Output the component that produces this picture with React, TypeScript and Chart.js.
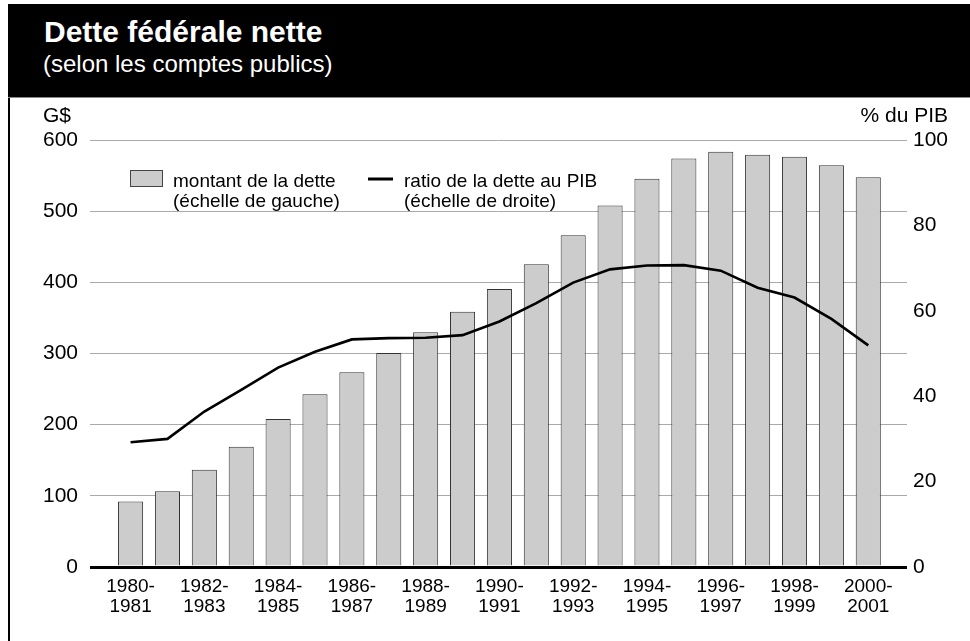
import React, { useEffect, useRef } from "react";
import { Chart, registerables } from "chart.js";

Chart.register(...registerables);

const categories: string[] = [
  "1980-1981", "1981-1982", "1982-1983", "1983-1984", "1984-1985", "1985-1986",
  "1986-1987", "1987-1988", "1988-1989", "1989-1990", "1990-1991", "1991-1992",
  "1992-1993", "1993-1994", "1994-1995", "1995-1996", "1996-1997", "1997-1998",
  "1998-1999", "1999-2000", "2000-2001",
];

// Net federal debt, billions of dollars (left scale)
const debtAmount: number[] = [
  91.9, 106.6, 136.6, 169.0, 207.9, 242.6, 273.5, 300.7, 330.0, 358.7, 390.6,
  425.3, 466.0, 508.0, 545.6, 574.0, 583.6, 579.4, 576.6, 564.4, 547.6,
];

// Debt-to-GDP ratio, % (right scale)
const debtRatio: number[] = [
  29.2, 30.0, 36.4, 41.5, 46.7, 50.4, 53.3, 53.6, 53.7, 54.3, 57.5,
  61.8, 66.6, 69.7, 70.6, 70.7, 69.4, 65.4, 63.1, 58.1, 51.9,
];

const leftTicks: number[] = [0, 100, 200, 300, 400, 500, 600];
const rightTicks: number[] = [0, 20, 40, 60, 80, 100];

const titleText = "Dette fédérale nette";
const subtitleText = "(selon les comptes publics)";
const leftAxisTitle = "G$";
const rightAxisTitle = "% du PIB";
const legendBar: string[] = ["montant de la dette", "(échelle de gauche)"];
const legendLine: string[] = ["ratio de la dette au PIB", "(échelle de droite)"];

const FONT = '"Liberation Sans", Arial, Helvetica, sans-serif';
const BAR_FILL = "#cccccc";
const BAR_BORDER = "#333333";

export default function App() {
  const canvasRef = useRef<HTMLCanvasElement | null>(null);

  useEffect(() => {
    const canvas = canvasRef.current;
    if (!canvas) return;

    const overlay = {
      id: "overlay",
      afterDraw(chart: any) {
        const { ctx, chartArea } = chart;
        const { left, top } = chartArea;
        ctx.save();
        ctx.fillStyle = "#000";
        ctx.textBaseline = "alphabetic";
        ctx.font = `21px ${FONT}`;
        ctx.textAlign = "left";
        ctx.fillText(leftAxisTitle, 33, 23);
        ctx.textAlign = "right";
        ctx.fillText(rightAxisTitle, chart.width - 22, 23);

        // legend: bars
        ctx.fillStyle = BAR_FILL;
        ctx.fillRect(left + 40, top + 30, 33, 17);
        ctx.strokeStyle = "#444";
        ctx.lineWidth = 1;
        ctx.strokeRect(left + 40.5, top + 30.5, 32, 16);
        ctx.fillStyle = "#000";
        ctx.font = `19px ${FONT}`;
        ctx.textAlign = "left";
        legendBar.forEach((t, i) => ctx.fillText(t, left + 83, top + 47 + i * 20));

        // legend: line
        ctx.strokeStyle = "#000";
        ctx.lineWidth = 3;
        ctx.beginPath();
        ctx.moveTo(left + 278, top + 39);
        ctx.lineTo(left + 303, top + 39);
        ctx.stroke();
        legendLine.forEach((t, i) => ctx.fillText(t, left + 314, top + 47 + i * 20));
        ctx.restore();
      },
    };

    const chart = new Chart(canvas, {
      type: "bar",
      data: {
        datasets: [
          {
            type: "line",
            label: legendLine.join(" "),
            data: debtRatio.map((v, i) => ({ x: i, y: v })),
            yAxisID: "y1",
            borderColor: "#000",
            borderWidth: 2.6,
            pointRadius: 0,
            tension: 0,
            fill: false,
            order: 0,
          } as any,
          {
            type: "bar",
            label: legendBar.join(" "),
            data: debtAmount.map((v, i) => ({ x: i, y: v })),
            yAxisID: "y",
            backgroundColor: BAR_FILL,
            borderColor: BAR_BORDER,
            borderWidth: 1,
            barPercentage: 0.68,
            categoryPercentage: 1,
            order: 1,
          } as any,
        ],
      },
      options: {
        responsive: false,
        devicePixelRatio: 1,
        animation: false,
        layout: { padding: { top: 41, left: 0, right: 0, bottom: 0 } },
        plugins: {
          legend: { display: false },
          tooltip: { enabled: false },
          title: { display: false },
        },
        scales: {
          x: {
            type: "linear",
            offset: false,
            min: -1.1,
            max: 21.05,
            grid: { display: false, offset: false },
            border: { display: false },
            afterBuildTicks: (axis: any) => {
              axis.ticks = categories
                .map((_, i) => ({ value: i }))
                .filter((t) => t.value % 2 === 0);
            },
            afterFit: (axis: any) => {
              axis.height = 74;
            },
            ticks: {
              autoSkip: false,
              maxRotation: 0,
              padding: 2,
              color: "#000",
              font: { family: FONT, size: 19, lineHeight: 1.05 },
              callback: (value: any) => {
                const c = categories[Number(value)];
                if (!c) return "";
                const [a, b] = c.split("-");
                return [a + "-", b];
              },
            },
          },
          y: {
            type: "linear",
            position: "left",
            min: 0,
            max: 600,
            afterBuildTicks: (axis: any) => {
              axis.ticks = leftTicks.map((v) => ({ value: v }));
            },
            afterFit: (axis: any) => {
              axis.width = 80;
            },
            grid: {
              drawTicks: false,
              color: (c: any) => (c.tick && c.tick.value === 0 ? "#000" : "#aaaaaa"),
              lineWidth: (c: any) => (c.tick && c.tick.value === 0 ? 3 : 1),
            },
            border: { display: false },
            ticks: {
              padding: 12,
              color: "#000",
              font: { family: FONT, size: 21 },
            },
          },
          y1: {
            type: "linear",
            position: "right",
            min: 0,
            max: 100,
            afterBuildTicks: (axis: any) => {
              axis.ticks = rightTicks.map((v) => ({ value: v }));
            },
            afterFit: (axis: any) => {
              axis.width = 63;
            },
            grid: { display: false, drawTicks: false },
            border: { display: false },
            ticks: {
              padding: 6,
              color: "#000",
              font: { family: FONT, size: 21 },
            },
          },
        },
      } as any,
      plugins: [overlay],
    });

    return () => {
      chart.destroy();
    };
  }, []);

  return (
    <div
      style={{
        position: "absolute",
        left: 0,
        top: 0,
        width: 970,
        height: 641,
        overflow: "hidden",
        background: "#fff",
      }}
    >
      <div
        style={{
          position: "absolute",
          left: 8,
          top: 4,
          width: 962,
          height: 94,
          background: "#000",
          borderBottom: "1px solid #888",
          boxSizing: "border-box",
        }}
      >
        <div
          style={{
            position: "absolute",
            left: 36,
            top: 12.6,
            color: "#fff",
            fontFamily: FONT,
            fontWeight: "bold",
            fontSize: 30,
            lineHeight: "30px",
            whiteSpace: "nowrap",
          }}
        >
          {titleText}
        </div>
        <div
          style={{
            position: "absolute",
            left: 35,
            top: 47.7,
            color: "#fff",
            fontFamily: FONT,
            fontSize: 24,
            lineHeight: "24px",
            whiteSpace: "nowrap",
          }}
        >
          {subtitleText}
        </div>
      </div>
      <div
        style={{
          position: "absolute",
          left: 8,
          top: 98,
          width: 2,
          height: 543,
          background: "#000",
        }}
      />
      <canvas
        ref={canvasRef}
        width={960}
        height={542}
        style={{ position: "absolute", left: 10, top: 99, width: 960, height: 542 }}
      />
    </div>
  );
}
